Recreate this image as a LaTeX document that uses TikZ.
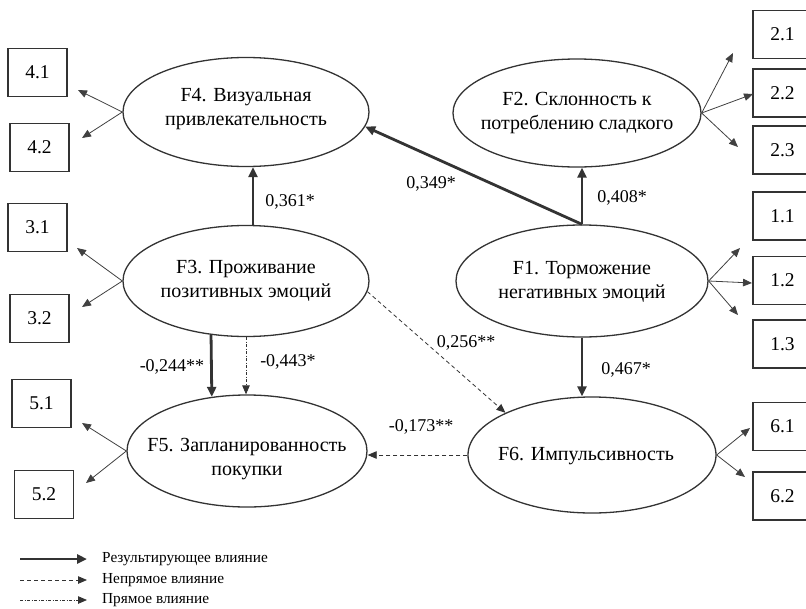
\documentclass[tikz,border=0pt]{standalone}
\usepackage{fontspec}
\setmainfont{Liberation Serif}
\usetikzlibrary{arrows.meta,shapes.geometric,calc}
\begin{document}
\begin{tikzpicture}[x=1pt,y=-1pt,
  lat/.style={ellipse, draw=black!80, line width=1.3pt, inner sep=0pt},
  ltext/.style={align=center, inner sep=0pt, font=\fontsize{20}{24.5}\selectfont},
  obs/.style={rectangle, draw=black!80, line width=1.1pt, inner sep=0pt, minimum width=59pt, minimum height=48pt, font=\fontsize{19.5}{22}\selectfont},
  load/.style={draw=black!75, line width=0.8pt, -{Triangle[length=9pt,width=7.5pt]}},
  res/.style={draw=black!80, line width=2.8pt, -{Triangle[length=10pt,width=9pt]}},
  ind/.style={draw=black!80, line width=0.8pt, dash pattern=on 4pt off 3pt, -{Triangle[length=9pt,width=7.5pt]}},
  dir/.style={draw=black!80, line width=0.8pt, dash pattern=on 3pt off 1.5pt on 1pt off 1.5pt, -{Triangle[length=9pt,width=7.5pt]}},
  coef/.style={inner sep=0pt, font=\fontsize{18}{20}\selectfont},
  leg/.style={inner sep=0pt, anchor=west, font=\fontsize{15.3}{18}\selectfont}
]
\useasboundingbox (0,0) rectangle (806,608);

% latent factors
\node[lat, minimum width=246pt, minimum height=109pt] (f4) at (246,112) {};
\node[lat, minimum width=246pt, minimum height=111pt] (f3) at (246,281) {};
\node[lat, minimum width=248pt, minimum height=108pt] (f2) at (577,113) {};
\node[lat, minimum width=252pt, minimum height=112pt] (f1) at (582,281) {};
\node[lat, minimum width=240pt, minimum height=112pt] (f5) at (247,451) {};
\node[lat, minimum width=248pt, minimum height=116pt] (f6) at (592,455) {};

\node[ltext] (f4t) at (246,109) {F4. Визуальная\\привлекательность};
\node[ltext] (f3t) at (246,281) {F3. Проживание\\позитивных эмоций};
\node[ltext] (f2t) at (577,113) {F2. Склонность к\\потреблению сладкого};
\node[ltext] (f1t) at (582,282) {F1. Торможение\\негативных эмоций};
\node[ltext] (f5t) at (247,459) {F5. Запланированность\\покупки};
\node[ltext] (f6t) at (586,456) {F6. Импульсивность};

% observed indicators
\node[obs] (b41) at (37.5,72.5) {4.1};
\node[obs] (b42) at (39.5,147.5) {4.2};
\node[obs] (b31) at (37.5,227.5) {3.1};
\node[obs] (b32) at (39.5,318.5) {3.2};
\node[obs] (b51) at (41.5,403.5) {5.1};
\node[obs] (b52) at (44,494.5) {5.2};

\node[obs] (b21) at (782.5,34.5) {2.1};
\node[obs] (b22) at (782.5,93) {2.2};
\node[obs] (b23) at (782.5,150) {2.3};
\node[obs] (b11) at (782.5,216) {1.1};
\node[obs] (b12) at (782.5,280.5) {1.2};
\node[obs] (b13) at (782.5,344) {1.3};
\node[obs] (b61) at (782.5,426.5) {6.1};
\node[obs] (b62) at (782.5,496) {6.2};

% loading arrow tips
\coordinate (t41) at (78,90);
\coordinate (t42) at (82,138);
\coordinate (t31) at (77,248);
\coordinate (t32) at (82,307);
\coordinate (t51) at (82,423);
\coordinate (t52) at (86,483);
\coordinate (t21) at (733,53);
\coordinate (t22) at (753,94);
\coordinate (t23) at (738,147);
\coordinate (t11) at (740,248);
\coordinate (t12) at (752,283);
\coordinate (t13) at (738,315);
\coordinate (t61) at (750,428);
\coordinate (t62) at (745,477);

\draw[load] (f4.west) -- (t41);
\draw[load] (f4.west) -- (t42);
\draw[load] (f3.west) -- (t31);
\draw[load] (f3.west) -- (t32);
\draw[load] (f5.west) -- (t51);
\draw[load] (f5.west) -- (t52);
\draw[load] (f2.east) -- (t21);
\draw[load] (f2.east) -- (t22);
\draw[load] (f2.east) -- (t23);
\draw[load] (f1.east) -- (t11);
\draw[load] (f1.east) -- (t12);
\draw[load] (f1.east) -- (t13);
\draw[load] (f6.east) -- (t61);
\draw[load] (f6.east) -- (t62);

% structural paths
\draw[res] ($(f3.north)+(7,0)$) -- ($(f4.south)+(7,0)$);
\draw[res] (f1.north) -- (f1.north |- f2.south);
\draw[res] (f1.north) -- (f4.-7);
\draw[res] (f1.south) -- (f1.south |- f6.north);
\draw[res] (f3.237) -- (f5.123);
\draw[dir] (f3.south) -- (f3.south |- f5.north);
\draw[ind] (f3.-5) -- (f6.154);
\draw[ind] (f6.west) -- (f6.west -| f5.east);

% coefficients
\node[coef] (c361) at (290,202) {0,361*};
\node[coef] (c408) at (622,198) {0,408*};
\node[coef] (c349) at (431,184) {0,349*};
\node[coef] (c467) at (626,370) {0,467*};
\node[coef] (c244) at (172,367) {-0,244**};
\node[coef] (c443) at (288,362) {-0,443*};
\node[coef] (c256) at (466,343) {0,256**};
\node[coef] (c173) at (421,427) {-0,173**};

% legend
\coordinate (l1a) at (20,559); \coordinate (l1b) at (87,559);
\coordinate (l2a) at (20,580); \coordinate (l2b) at (87,580);
\coordinate (l3a) at (20,600); \coordinate (l3b) at (87,600);
\draw[res] (l1a) -- (l1b);
\draw[ind] (l2a) -- (l2b);
\draw[dir] (l3a) -- (l3b);
\node[leg] (lg1) at (102,559) {Результирующее влияние};
\node[leg] (lg2) at (102,580) {Непрямое влияние};
\node[leg] (lg3) at (102,600) {Прямое влияние};
\end{tikzpicture}
\end{document}
